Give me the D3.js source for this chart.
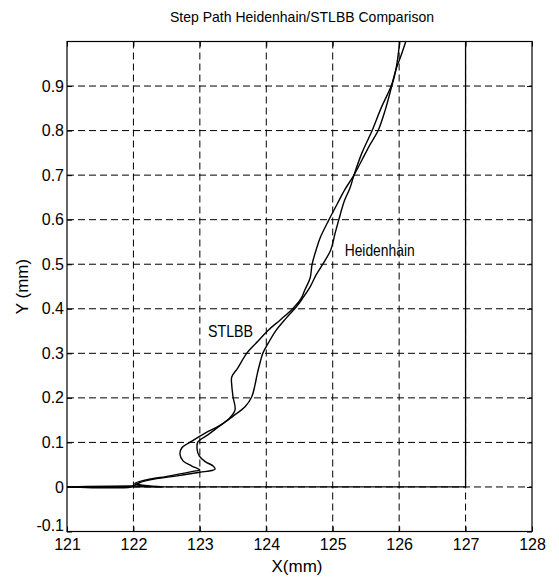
<!DOCTYPE html>
<html>
<head>
<meta charset="utf-8">
<script src="https://cdnjs.cloudflare.com/ajax/libs/d3/7.8.5/d3.min.js"></script>
<style>
  body { margin: 0; background: #fff; }
  text { font-family: "Liberation Sans", Arial, sans-serif; fill: #000; }
</style>
</head>
<body>
<div id="chart"></div>
<script>
// tick values
var xTicks = [121, 122, 123, 124, 125, 126, 127, 128];
var yTicks = [-0.1, 0, 0.1, 0.2, 0.3, 0.4, 0.5, 0.6, 0.7, 0.8, 0.9];
var xGrid = [122, 123, 124, 125, 126, 127];
var yGrid = [0, 0.1, 0.2, 0.3, 0.4, 0.5, 0.6, 0.7, 0.8, 0.9];

// nominal step outline
var stepX = [121, 127, 127];
var stepY = [0, 0, 1.0];

// Heidenhain path
var heidX = [121.00, 121.96, 122.00, 122.10, 122.29, 122.66, 123.00, 123.18, 123.23, 123.20,
             123.08, 122.99, 122.96, 122.97, 123.12, 123.30, 123.50, 123.68, 123.78, 123.83,
             123.86, 123.91, 123.95, 124.03, 124.15, 124.30, 124.45, 124.54, 124.66, 124.75,
             124.85, 124.97, 125.03, 125.09, 125.18, 125.26, 125.32, 125.44, 125.59, 125.73,
             125.88, 125.95, 126.03, 126.10];
var heidY = [0.000, 0.000, 0.003, 0.010, 0.017, 0.025, 0.033, 0.037, 0.040, 0.047,
             0.057, 0.070, 0.083, 0.101, 0.117, 0.137, 0.159, 0.180, 0.202, 0.229,
             0.251, 0.281, 0.301, 0.323, 0.352, 0.379, 0.404, 0.422, 0.449, 0.476,
             0.500, 0.532, 0.566, 0.599, 0.644, 0.671, 0.700, 0.750, 0.799, 0.851,
             0.900, 0.936, 0.969, 1.000];

// STLBB path
var stlbbX = [121.00, 122.02, 122.45, 122.14, 122.02, 122.17, 122.55, 122.94, 123.00, 122.88,
              122.75, 122.70, 122.73, 122.88, 123.08, 123.29, 123.45, 123.53, 123.50, 123.48,
              123.48, 123.57, 123.71, 123.88, 124.03, 124.21, 124.39, 124.52, 124.58, 124.66,
              124.69, 124.75, 124.81, 124.94, 125.06, 125.18, 125.32, 125.44, 125.56, 125.68,
              125.79, 125.88, 125.95, 126.01];
var stlbbY = [0.000, 0.002, 0.000, 0.004, 0.008, 0.015, 0.025, 0.036, 0.038, 0.047,
              0.058, 0.074, 0.088, 0.103, 0.121, 0.137, 0.155, 0.173, 0.202, 0.229,
              0.247, 0.267, 0.301, 0.328, 0.352, 0.375, 0.399, 0.422, 0.442, 0.469,
              0.500, 0.532, 0.559, 0.599, 0.633, 0.667, 0.700, 0.734, 0.768, 0.799,
              0.846, 0.895, 0.936, 1.000];

var width = 559,
    height = 582;
var plotL = 67, plotR = 532, plotT = 41.5, plotB = 531.5;

var x = d3.scaleLinear().domain([121, 128]).range([plotL, plotR]);
var y = d3.scaleLinear().domain([-0.1, 1.0]).range([plotB, plotT]);

var svg = d3.select('#chart').append('svg')
    .attr('width', width)
    .attr('height', height);

svg.append('defs').append('clipPath').attr('id', 'plot')
  .append('rect')
    .attr('x', plotL).attr('y', plotT)
    .attr('width', plotR - plotL).attr('height', plotB - plotT);

// dashed grid
svg.append('g').selectAll('line').data(xGrid)
  .enter().append('line')
    .attr('x1', function(d) { return x(d); })
    .attr('x2', function(d) { return x(d); })
    .attr('y1', plotT).attr('y2', plotB)
    .attr('stroke', '#000').attr('stroke-width', 1)
    .attr('stroke-dasharray', '7,4');

svg.append('g').selectAll('line').data(yGrid)
  .enter().append('line')
    .attr('y1', function(d) { return y(d); })
    .attr('y2', function(d) { return y(d); })
    .attr('x1', plotL).attr('x2', plotR)
    .attr('stroke', '#000').attr('stroke-width', 1)
    .attr('stroke-dasharray', '7,4');

// axes, ticks pointing inward
var fmt = function(d) { return String(+d.toFixed(1)); };

svg.append('g')
    .attr('transform', 'translate(0,' + plotB + ')')
    .call(d3.axisBottom(x).tickValues(xTicks).tickSize(-5).tickPadding(7).tickFormat(d3.format('d')));
svg.append('g')
    .attr('transform', 'translate(0,' + plotT + ')')
    .call(d3.axisTop(x).tickValues(xTicks).tickSize(-5).tickFormat(''));
var yAxis = svg.append('g')
    .attr('transform', 'translate(' + plotL + ',0)')
    .call(d3.axisLeft(y).tickValues(yTicks).tickSize(-5).tickPadding(3).tickFormat(fmt));
svg.append('g')
    .attr('transform', 'translate(' + plotR + ',0)')
    .call(d3.axisRight(y).tickValues(yTicks).tickSize(-5).tickFormat(''));

svg.selectAll('.domain').remove();
svg.selectAll('.tick line').attr('stroke', '#000');
svg.selectAll('.tick text')
    .style('font-size', '16px')
    .style('font-family', '"Liberation Sans", Arial, sans-serif')
    .attr('fill', '#000');

// lowest y label sits just above the corner, as in the original
yAxis.selectAll('.tick text')
    .filter(function(d) { return d < 0; })
    .attr('dy', '-0.05em');

svg.append('rect')
    .attr('x', plotL).attr('y', plotT)
    .attr('width', plotR - plotL).attr('height', plotB - plotT)
    .attr('fill', 'none').attr('stroke', '#000').attr('stroke-width', 1.2);

// paths
var line = d3.line()
    .x(function(d) { return x(d[0]); })
    .y(function(d) { return y(d[1]); })
    .curve(d3.curveCatmullRom.alpha(0.5));

var stepLine = d3.line()
    .x(function(d) { return x(d[0]); })
    .y(function(d) { return y(d[1]); });

var plot = svg.append('g').attr('clip-path', 'url(#plot)');

plot.append('path')
    .datum(d3.zip(stepX, stepY))
    .attr('d', stepLine)
    .attr('fill', 'none').attr('stroke', '#000').attr('stroke-width', 1.3);

plot.append('path')
    .datum(d3.zip(heidX, heidY))
    .attr('d', line)
    .attr('fill', 'none').attr('stroke', '#000').attr('stroke-width', 1.4);

plot.append('path')
    .datum(d3.zip(stlbbX, stlbbY))
    .attr('d', line)
    .attr('fill', 'none').attr('stroke', '#000').attr('stroke-width', 1.4);

// labels
svg.append('text')
    .attr('x', 170).attr('y', 22)
    .attr('textLength', 264).attr('lengthAdjust', 'spacingAndGlyphs')
    .style('font-size', '15px')
    .text('Step Path Heidenhain/STLBB Comparison');

svg.append('text')
    .attr('x', x(125.18)).attr('y', 256)
    .attr('textLength', 70).attr('lengthAdjust', 'spacingAndGlyphs')
    .style('font-size', '17px')
    .text('Heidenhain');

svg.append('text')
    .attr('x', 208).attr('y', 337)
    .attr('textLength', 45).attr('lengthAdjust', 'spacingAndGlyphs')
    .style('font-size', '17px')
    .text('STLBB');

svg.append('text')
    .attr('x', 297).attr('y', 572)
    .attr('text-anchor', 'middle')
    .style('font-size', '17px')
    .text('X(mm)');

svg.append('text')
    .attr('transform', 'translate(28,' + ((plotT + plotB) / 2) + ') rotate(-90)')
    .attr('text-anchor', 'middle')
    .style('font-size', '17px')
    .text('Y (mm)');
</script>
</body>
</html>
